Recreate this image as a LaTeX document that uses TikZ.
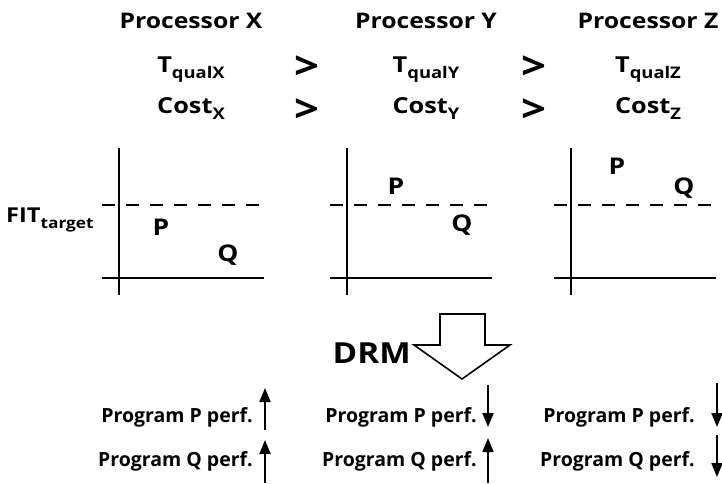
\documentclass[tikz,border=0pt]{standalone}
\usepackage{fontspec}
\setmainfont{Open Sans}
\newfontfamily\wf{Open Sans}[FakeStretch=1.15]
\usetikzlibrary{arrows.meta}
\newcommand\sbx[2][16]{\raisebox{-6pt}{\fontsize{#1}{#1}\selectfont #2}}
\tikzset{
  ttl/.style={inner sep=0pt, anchor=base, font=\wf\bfseries\fontsize{21.5}{21.5}\selectfont},
  rowtxt/.style={inner sep=0pt, anchor=base, font=\wf\bfseries\fontsize{22}{22}\selectfont},
  gtsym/.style={inner sep=0pt, anchor=base, font=\wf\bfseries\fontsize{38}{38}\selectfont},
  pq/.style={inner sep=0pt, anchor=base, font=\wf\bfseries\fontsize{23}{23}\selectfont},
  btxt/.style={inner sep=0pt, anchor=base east, font=\bfseries\fontsize{19.5}{19.5}\selectfont},
  axis/.style={line width=2.4pt},
  fitline/.style={line width=2.4pt, dash pattern=on 13pt off 11pt},
  sarr/.style={line width=2pt, -{Triangle[width=11pt,length=14pt]}},
  bigarr/.style={line width=1.6pt, line join=miter}
}
\begin{document}
\begin{tikzpicture}[x=1pt,y=-1pt]
\useasboundingbox (0,0) rectangle (722,483);
% titles
\node[ttl] (px) at (191,28) {Processor X};
\node[ttl] (py) at (426,28) {Processor Y};
\node[ttl] (pz) at (648,28) {Processor Z};
% T_qual row
\node[rowtxt] (tx) at (191,72) {T\sbx{qualX}};
\node[rowtxt] (ty) at (426,72) {T\sbx{qualY}};
\node[rowtxt] (tz) at (648,72) {T\sbx{qualZ}};
\node[gtsym] (g1) at (307,79) {>};
\node[gtsym] (g2) at (534,79) {>};
% cost row
\node[rowtxt] (cx) at (191,113) {Cost\sbx{X}};
\node[rowtxt] (cy) at (426,113) {Cost\sbx{Y}};
\node[rowtxt] (cz) at (648,113) {Cost\sbx{Z}};
\node[gtsym] (g3) at (307,122) {>};
\node[gtsym] (g4) at (534,122) {>};
% charts
\foreach \vx/\n in {119/a,347/b,571/c}{
  \coordinate (\n top) at (\vx,148);
  \coordinate (\n bot) at (\vx,295);
  \coordinate (\n sl) at (\vx-17,278);
  \coordinate (\n sr) at (\vx+145,278);
  \coordinate (\n dl) at (\vx-17,205);
  \coordinate (\n dr) at (\vx+145,205);
  \draw[axis] (\n top) -- (\n bot);
  \draw[axis] (\n sl) -- (\n sr);
  \draw[fitline] (\n dl) -- (\n dr);
}
\node[inner sep=0pt, anchor=base west, font=\wf\bfseries\fontsize{20.5}{20.5}\selectfont] (fit) at (6,222) {FIT\sbx[15]{target}};
\node[pq] (pa) at (161,235) {P};
\node[pq] (qa) at (228,261) {Q};
\node[pq] (pb) at (396,194) {P};
\node[pq] (qb) at (462,231) {Q};
\node[pq] (pc) at (617,174) {P};
\node[pq] (qc) at (684,194) {Q};
% DRM
\draw[bigarr] (440,314) coordinate (s1) -- (485,314) coordinate (s2) -- (485,345) -- (510,345) -- (462,379) coordinate (tip) -- (414,345) -- (440,345) -- cycle;
\node[inner sep=0pt, anchor=base east, font=\wf\bfseries\fontsize{29}{29}\selectfont] (drm) at (411,363) {DRM};
% bottom texts
\node[btxt] (lp) at (253,422) {Program P perf.};
\node[btxt] (lq) at (253,466) {Program Q perf.};
\node[btxt] (mp) at (477,422) {Program P perf.};
\node[btxt] (mq) at (477,466) {Program Q perf.};
\node[btxt] (rp) at (695,422) {Program P perf.};
\node[btxt] (rq) at (695,466) {Program Q perf.};
% small arrows
\coordinate (lpa) at (265,430); \coordinate (lpb) at (265,388);
\coordinate (lqa) at (265,483); \coordinate (lqb) at (265,440);
\coordinate (mpa) at (488,385); \coordinate (mpb) at (488,427);
\coordinate (mqa) at (488,483); \coordinate (mqb) at (488,438);
\coordinate (rpa) at (717,383); \coordinate (rpb) at (717,427);
\coordinate (rqa) at (717,435); \coordinate (rqb) at (717,477);
\draw[sarr] (lpa) -- (lpb);
\draw[sarr] (lqa) -- (lqb);
\draw[sarr] (mpa) -- (mpb);
\draw[sarr] (mqa) -- (mqb);
\draw[sarr] (rpa) -- (rpb);
\draw[sarr] (rqa) -- (rqb);
\end{tikzpicture}
\end{document}
